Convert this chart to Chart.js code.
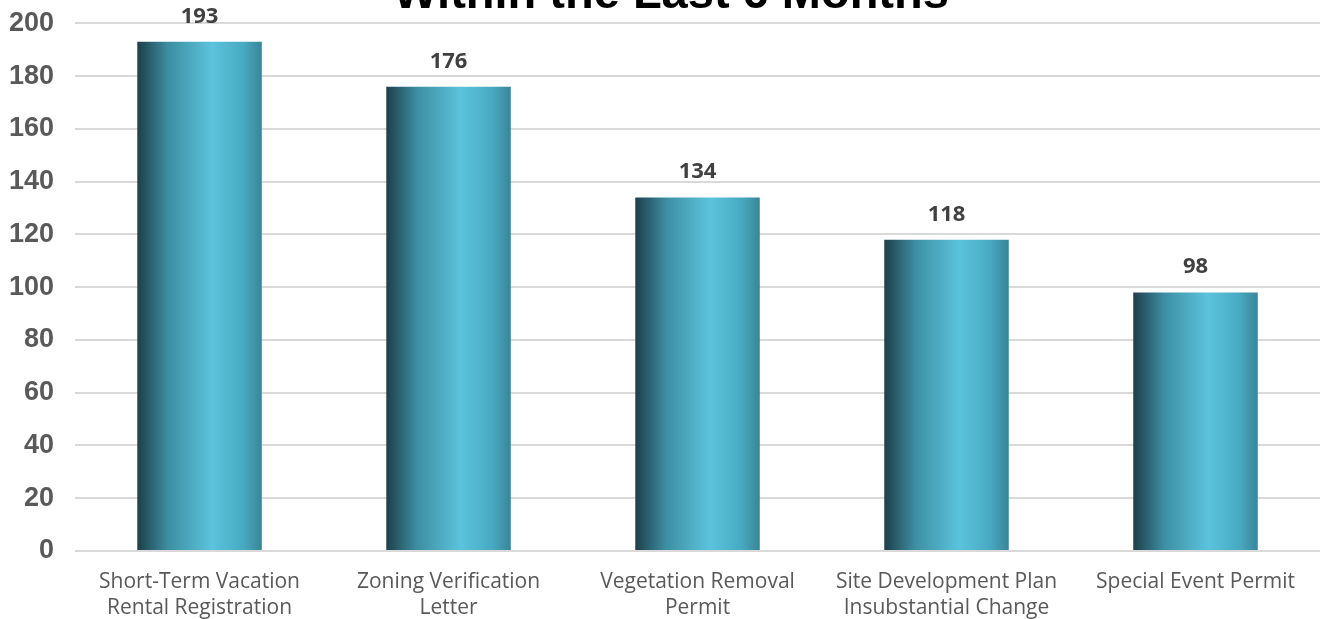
<!DOCTYPE html>
<html>
<head>
<meta charset="utf-8">
<title>Applications Within the Last 6 Months</title>
<script src="https://cdn.jsdelivr.net/npm/chart.js@4"></script>
<style>
  html, body { margin: 0; padding: 0; background: #fff; overflow: hidden; }
  #wrap { position: relative; width: 1327px; height: 619px; overflow: hidden; }
  /* the title sits partly above the visible area, as in the source picture */
  #holder { position: absolute; left: -14px; top: -33px; width: 1368px; height: 664px; }
</style>
</head>
<body>
<div id="wrap">
  <div id="holder"><canvas id="chart"></canvas></div>
</div>
<script>
const categories = [
  ['Short-Term Vacation', 'Rental Registration'],
  ['Zoning Verification', 'Letter'],
  ['Vegetation Removal', 'Permit'],
  ['Site Development Plan', 'Insubstantial Change'],
  ['Special Event Permit']
];
const counts = [193, 176, 134, 118, 98];
const yTicks = [0, 20, 40, 60, 80, 100, 120, 140, 160, 180, 200];

// horizontal "cylinder" shading of each bar
function barGradient(context) {
  const chart = context.chart;
  const xs = chart.scales && chart.scales.x;
  if (!chart.chartArea || !xs || context.dataIndex === undefined) return '#4aaec6';
  const cx = xs.getPixelForValue(context.dataIndex);
  const half = xs.width / categories.length / 4;
  if (!isFinite(cx) || !isFinite(half)) return '#4aaec6';
  const g = chart.ctx.createLinearGradient(cx - half, 0, cx + half, 0);
  g.addColorStop(0, '#1d3f4a');
  g.addColorStop(0.25, '#3d8fa3');
  g.addColorStop(0.6, '#5bc3dc');
  g.addColorStop(0.85, '#48aac2');
  g.addColorStop(1, '#3a8497');
  return g;
}

const valueLabels = {
  id: 'valueLabels',
  afterDatasetsDraw(chart) {
    const ctx = chart.ctx;
    const meta = chart.getDatasetMeta(0);
    ctx.save();
    ctx.font = 'bold 22px "Open Sans"';
    ctx.fillStyle = '#404040';
    ctx.textAlign = 'center';
    ctx.textBaseline = 'alphabetic';
    meta.data.forEach((bar, i) => {
      ctx.fillText(String(counts[i]), bar.x, bar.y - 19);
    });
    ctx.restore();
  }
};

new Chart(document.getElementById('chart'), {
  type: 'bar',
  data: {
    labels: categories,
    datasets: [{
      data: counts,
      backgroundColor: barGradient,
      borderWidth: 0,
      barPercentage: 0.5,
      categoryPercentage: 1
    }]
  },
  options: {
    responsive: true,
    maintainAspectRatio: false,
    animation: false,
    layout: { padding: { left: 2, right: 0, top: 0, bottom: 0 } },
    plugins: {
      legend: { display: false },
      tooltip: { enabled: false },
      title: {
        display: true,
        text: 'Within the Last 6 Months',
        color: '#000',
        font: { family: '"Liberation Sans", Arial', size: 47, weight: 'bold' },
        padding: { top: 0, bottom: 0 }
      }
    },
    scales: {
      x: {
        grid: { display: false },
        border: { display: false },
        ticks: {
          color: '#595959',
          font: { family: '"Open Sans"', size: 21, lineHeight: 1.24 },
          maxRotation: 0,
          autoSkip: false,
          padding: 10
        }
      },
      y: {
        min: 0,
        max: 200,
        afterBuildTicks(axis) { axis.ticks = yTicks.map(v => ({ value: v })); },
        grid: { color: '#d9d9d9', lineWidth: 2, drawTicks: false },
        border: { display: false },
        ticks: {
          color: '#595959',
          font: { family: '"Liberation Sans", Arial', size: 27, weight: 'bold' },
          padding: 21
        }
      },
      // empty right-hand margin, so the title stays centred on the whole figure
      yRight: {
        position: 'right',
        min: 0,
        max: 200,
        grid: { display: false },
        border: { display: false },
        ticks: { display: false },
        afterFit(axis) { axis.width = 34; }
      }
    }
  },
  plugins: [valueLabels]
});
</script>
</body>
</html>
